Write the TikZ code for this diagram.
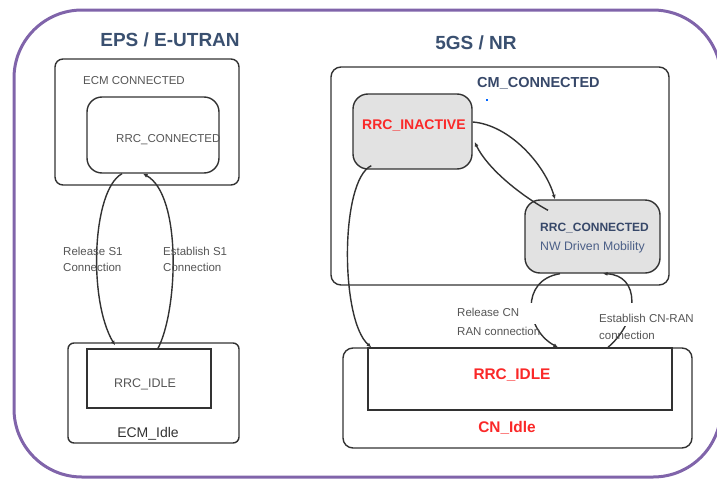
\documentclass[tikz,border=0pt]{standalone}
\usepackage{fontspec}
\setmainfont{Liberation Sans}
\usetikzlibrary{arrows.meta,calc}
\definecolor{frame}{RGB}{128,100,170}
\definecolor{titleblue}{RGB}{58,80,112}
\definecolor{stateblue}{RGB}{55,72,105}
\definecolor{mobblue}{RGB}{75,95,135}
\definecolor{statered}{RGB}{250,40,40}
\definecolor{stategray}{RGB}{226,226,226}
\definecolor{edge}{RGB}{50,50,50}
\definecolor{labelgray}{RGB}{85,85,85}
\tikzset{
  statebox/.style={draw=edge,line width=1.4pt,inner sep=0pt,minimum width=#1},
  shaded/.style={fill=stategray},
  lbl/.style={font=\fontsize{11.5}{13}\selectfont,text=labelgray,inner sep=0pt,anchor=west},
  trans/.style={draw=edge,line width=1.4pt,-{Latex[length=4.5pt,width=4pt]}},
  title/.style={font=\fontsize{19}{22}\selectfont\bfseries,text=titleblue,inner sep=0pt},
  gapmask/.style={fill=white,draw=none},
}
\begin{document}
\begin{tikzpicture}[x=1pt,y=-1pt]
\useasboundingbox (0,0) rectangle (717,479);
% outer frame
\draw[frame,line width=3pt,rounded corners=68pt] (14,10) rectangle (721,477);

% titles
\node[title] (t1) at (170,40) {EPS / E-UTRAN};
\node[title] (t2) at (476,43) {5GS / NR};

% ---- EPS / E-UTRAN side ----
\node[statebox=184pt,minimum height=126pt,rounded corners=8pt] (ecmconn) at (147,122) {};
\node[statebox=132pt,minimum height=76pt,rounded corners=15pt] (lconn) at (153,135) {};
\node[lbl] (ecmconnlbl) at (83,81) {ECM CONNECTED};
\node[lbl] (lconnlbl) at (116,140) {RRC\_CONNECTED};

\node[statebox=171pt,minimum height=100pt,rounded corners=6pt] (ecmidle) at (153.5,393) {};
\node[statebox=124pt,minimum height=59pt] (lidle) at (149,378.5) {};
\node[lbl,anchor=center,font=\fontsize{12.5}{14}\selectfont] (lidlelbl) at (145,384) {RRC\_IDLE};
\node[lbl,anchor=center,text=edge,font=\fontsize{14}{16}\selectfont] (ecmidlelbl) at (148,434) {ECM\_Idle};

\coordinate (relA) at ($(lconn.south)+(-31,0)$);
\coordinate (relB) at ($(lidle.north)+(-34,-3)$);
\coordinate (estA) at ($(lidle.north)+(9,0)$);
\coordinate (estB) at ($(lconn.south)+(-10,0)$);
\draw[trans] (relA) .. controls (92,190) and (88,300) .. (relB);
\draw[trans] (estA) .. controls (178,310) and (182,195) .. (estB);
\node[lbl] (rel1) at (63,251) {Release S1};
\node[lbl] (rel2) at (63,267) {Connection};
\node[lbl] (est1) at (163,251) {Establish S1};
\node[lbl] (est2) at (163,267) {Connection};

% ---- 5GS / NR side ----
\node[statebox=338pt,minimum height=218pt,rounded corners=10pt] (cmconn) at (500,176) {};
\node[font=\fontsize{14.5}{16}\selectfont\bfseries,text=stateblue,inner sep=0pt,anchor=west] (cmconnlbl) at (477,83) {CM\_CONNECTED};
\fill[blue!60!cyan] (486,99.3) rectangle (488,100.7);

\node[statebox=119pt,minimum height=75pt,rounded corners=15pt,shaded] (inact) at (412.5,131.5) {};
\node[font=\fontsize{14}{16}\selectfont\bfseries,text=statered,inner sep=0pt,anchor=west] (inactlbl) at (362,125) {RRC\_INACTIVE};

\node[statebox=135pt,minimum height=73pt,rounded corners=15pt,shaded] (rconn) at (592.5,236.5) {};
\node[font=\fontsize{12}{14}\selectfont\bfseries,text=stateblue,inner sep=0pt,anchor=west] (rconnlbl) at (540,228) {RRC\_CONNECTED};
\node[font=\fontsize{12.3}{14}\selectfont,text=mobblue,inner sep=0pt,anchor=west] (moblbl) at (540,247) {NW Driven Mobility};

\node[statebox=349pt,minimum height=100pt,rounded corners=10pt] (cnidle) at (517.5,398) {};
\node[statebox=304pt,minimum height=62pt] (ridle) at (520,379) {};
\node[font=\fontsize{15.4}{17}\selectfont\bfseries,text=statered,inner sep=0pt] (ridlelbl) at (512,375) {RRC\_IDLE};
\node[font=\fontsize{15.4}{17}\selectfont\bfseries,text=statered,inner sep=0pt] (cnidlelbl) at (507,428) {CN\_Idle};

% RRC_INACTIVE <-> RRC_CONNECTED
\coordinate (iaR) at ($(inact.east)+(0,-9.5)$);
\coordinate (rcT) at ($(rconn.north)+(-37.5,0)$);
\coordinate (rcL) at ($(rconn.north)+(-44.5,11)$);
\coordinate (iaRb) at ($(inact.east)+(2,10.5)$);
\draw[trans] (iaR) .. controls (510,125) and (545,165) .. (rcT);
\draw[trans] (rcL) .. controls (520,195) and (487,168) .. (iaRb);

% RRC_INACTIVE -> RRC_IDLE
\coordinate (iaB) at ($(inact.south west)+(19,-4)$);
\coordinate (riA) at ($(ridle.north west)+(4,0)$);
\draw[trans] (iaB) .. controls (340,180) and (340,320) .. (riA);

% RRC_CONNECTED <-> RRC_IDLE, broken where the labels sit
\coordinate (rcB1) at ($(rconn.south)+(-32.5,0)$);
\coordinate (riB) at ($(ridle.north)+(38,0)$);
\coordinate (riC) at ($(ridle.north)+(88,0)$);
\coordinate (rcB2) at ($(rconn.south)+(10.5,0)$);
\draw[trans] (rcB1) .. controls (520,280) and (525,330) .. (riB);
\draw[trans] (riC) .. controls (640,320) and (640,275) .. (rcB2);
\fill[gapmask] (524,303) rectangle (546,324);
\fill[gapmask] (614,303) rectangle (638,326);
\node[lbl] (rcn1) at (457,312) {Release CN};
\node[lbl] (rcn2) at (457,331) {RAN connection};
\node[lbl] (ecn1) at (599,318) {Establish CN-RAN};
\node[lbl] (ecn2) at (599,335) {connection};
\end{tikzpicture}
\end{document}
